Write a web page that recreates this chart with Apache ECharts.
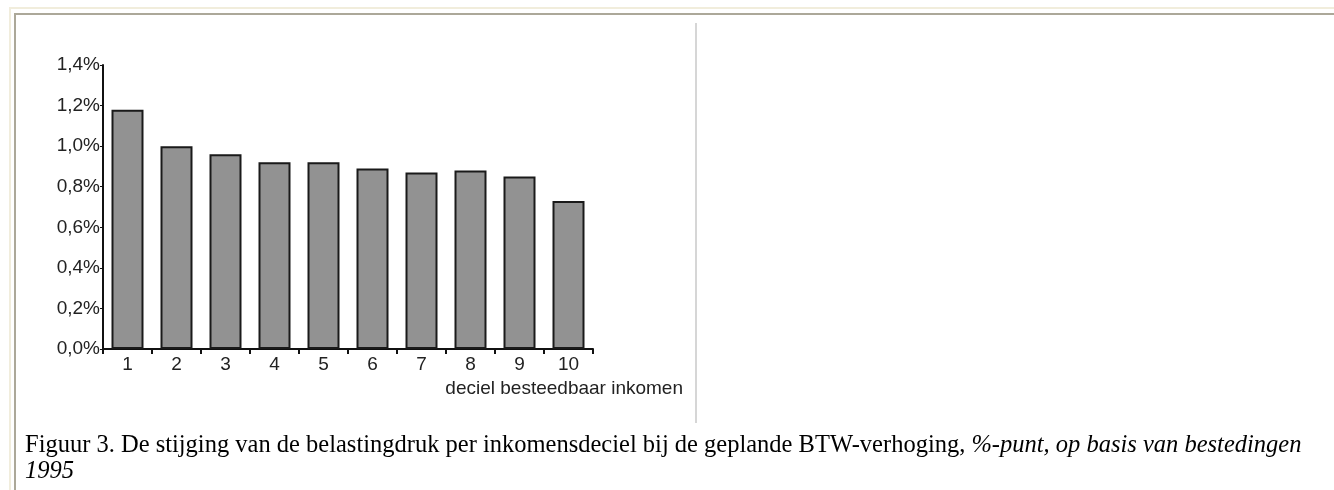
<!DOCTYPE html>
<html>
<head>
<meta charset="utf-8">
<script src="https://cdn.jsdelivr.net/npm/echarts@6/dist/echarts.min.js"></script>
<style>
  html, body { margin: 0; padding: 0; background: #fff; }
  body { width: 1334px; height: 490px; position: relative; overflow: hidden; }
  .frame-outer { position: absolute; left: 9px; top: 7px; right: -10px; bottom: -10px;
    border-left: 2px solid #f1eddc; border-top: 2px solid #f1eddc; }
  .frame-inner { position: absolute; left: 14px; top: 13px; right: -10px; bottom: -10px;
    border-left: 2px solid #aca899; border-top: 2px solid #aca899; }
  .divider { position: absolute; left: 695px; top: 23px; width: 2px; height: 400px; background: #d6d6d6; }
  #chart { position: absolute; left: 0; top: 0; width: 1334px; height: 490px; }
  .caption { position: absolute; left: 25px; top: 431px; width: 1300px;
    font-family: "Liberation Serif", "Times New Roman", serif; font-size: 24.5px; line-height: 26px; color: #000; }
</style>
</head>
<body>
<div class="frame-outer"></div>
<div class="frame-inner"></div>
<div class="divider"></div>
<div id="chart"></div>
<div class="caption">Figuur 3. De stijging van de belastingdruk per inkomensdeciel bij de geplande BTW-verhoging, <i>%-punt, op basis van bestedingen<br>1995</i></div>
<script>
// deciel besteedbaar inkomen
var deciles = ['1', '2', '3', '4', '5', '6', '7', '8', '9', '10'];
// stijging belastingdruk, %-punt
var increase = [1.18, 1.00, 0.96, 0.92, 0.92, 0.89, 0.87, 0.88, 0.85, 0.73];
var yTicks = { min: 0, max: 1.4, step: 0.2 };

var chart = echarts.init(document.getElementById('chart'), null, { renderer: 'canvas' });

var axisFont = { fontFamily: 'Liberation Sans, Arial, sans-serif', fontSize: 19, color: '#222' };

chart.setOption({
  animation: false,
  grid: { left: 103, top: 65, width: 490, height: 284, containLabel: false },
  xAxis: {
    type: 'category',
    data: deciles,
    name: 'deciel besteedbaar inkomen',
    nameLocation: 'end',
    nameGap: 0,
    nameTextStyle: Object.assign({}, axisFont, { align: 'right', verticalAlign: 'top', padding: [30, -90, 0, 0] }),
    axisLine: { lineStyle: { color: '#111', width: 2 } },
    axisTick: { show: true, alignWithLabel: false, length: 5, lineStyle: { color: '#111', width: 2 } },
    axisLabel: Object.assign({}, axisFont, { margin: 6 })
  },
  yAxis: {
    type: 'value',
    min: yTicks.min,
    max: yTicks.max,
    interval: yTicks.step,
    splitLine: { show: false },
    axisLine: { show: true, lineStyle: { color: '#111', width: 2 } },
    axisTick: { show: true, length: 3, lineStyle: { color: '#111', width: 1 } },
    axisLabel: Object.assign({}, axisFont, {
      margin: 3,
      formatter: function (v) { return v.toFixed(1).replace('.', ',') + '%'; }
    })
  },
  series: [{
    type: 'bar',
    data: increase,
    barWidth: 32,
    itemStyle: { color: '#929292', borderColor: '#1a1a1a', borderWidth: 2 }
  }]
});
</script>
</body>
</html>
